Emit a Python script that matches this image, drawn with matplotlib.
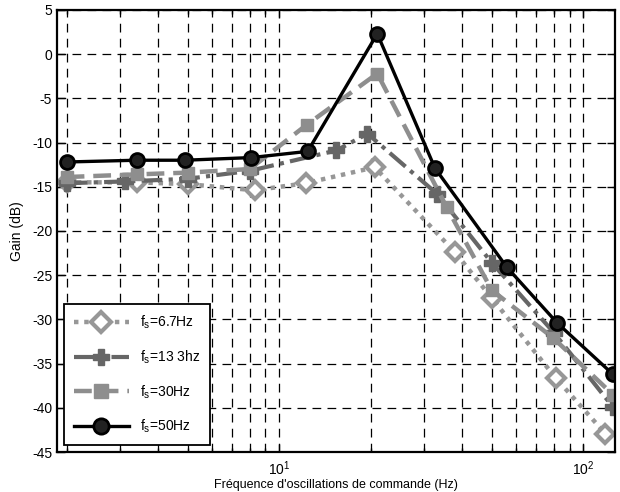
import matplotlib
matplotlib.use("Agg")
import matplotlib.pyplot as plt
from matplotlib.ticker import LogLocator, NullFormatter

plt.rcParams['font.family'] = ['Liberation Sans', 'DejaVu Sans']
plt.rcParams['axes.unicode_minus'] = False
plt.rcParams['mathtext.fontset'] = 'custom'
plt.rcParams['mathtext.rm'] = 'Liberation Sans'

# frequencies (Hz) and gains (dB)
f_67 = [2.0, 3.4, 5.0, 8.3, 12.2, 20.6, 37.8, 50.0, 81.0, 118.0]
g_67 = [-14.5, -14.5, -14.7, -15.4, -14.6, -12.8, -22.4, -27.6, -36.6, -42.9]

f_133 = [2.0, 3.1, 5.0, 8.0, 15.4, 19.5, 33.0, 50.0, 80.0, 125.0]
g_133 = [-14.6, -14.4, -14.1, -13.2, -10.9, -9.0, -15.8, -23.6, -31.5, -39.9]

f_30 = [2.0, 3.4, 5.0, 8.0, 12.3, 21.0, 35.5, 50.0, 79.6, 125.0]
g_30 = [-13.9, -13.6, -13.4, -13.0, -8.0, -2.2, -17.3, -26.7, -32.1, -38.5]

f_50 = [2.0, 3.4, 4.9, 8.1, 12.4, 21.0, 32.5, 56.0, 82.0, 125.0]
g_50 = [-12.2, -12.0, -12.0, -11.7, -11.0, 2.3, -12.9, -24.1, -30.4, -36.2]

labels = [r'f$_\mathregular{s}$=6.7Hz', r'f$_\mathregular{s}$=13 3hz',
          r'f$_\mathregular{s}$=30Hz', r'f$_\mathregular{s}$=50Hz']

fig = plt.figure(figsize=(6.2, 4.92), dpi=100)
ax = fig.add_axes([0.092, 0.081, 0.9, 0.899])

ax.plot(f_67, g_67, linestyle=(0, (1, 1.3)), color='#979797', lw=3.2,
        marker='D', ms=9, mfc='white', mec='#979797', mew=3, label=labels[0])
ax.plot(f_133, g_133, linestyle=(0, (5, 1.5, 1, 1.5)), color='#666666', lw=3,
        marker='P', ms=11, mfc='#666666', mec='#666666', label=labels[1])
ax.plot(f_30, g_30, linestyle=(0, (4, 2)), color='#8e8e8e', lw=3.2,
        marker='s', ms=9, mfc='#8e8e8e', mec='#8e8e8e', label=labels[2])
ax.plot(f_50, g_50, linestyle='-', color='black', lw=2.4,
        marker='o', ms=10, mfc='#222222', mec='black', mew=2, label=labels[3])

ax.set_xscale('log')
ax.set_xlim(1.86, 127)
ax.set_ylim(-45, 5)
ax.set_yticks(range(-45, 6, 5))
ax.xaxis.set_minor_locator(LogLocator(base=10, subs=range(2, 10)))
ax.xaxis.set_minor_formatter(NullFormatter())

ax.grid(True, which='major', color='black', linestyle=(0, (7, 5)), lw=0.9)
ax.grid(True, which='minor', axis='x', color='black', linestyle=(0, (7, 5)), lw=0.9)

ax.tick_params(which='both', direction='in', top=True, right=True, labelsize=10)
ax.tick_params(which='major', length=6, width=1)
ax.tick_params(which='minor', length=3, width=1)
ax.tick_params(axis='x', pad=5)
for s in ax.spines.values():
    s.set_linewidth(1.6)

ax.set_ylabel('Gain (dB)', fontsize=10, labelpad=6)
ax.set_xlabel("Fréquence d'oscillations de commande (Hz)", fontsize=9, labelpad=1)

leg = ax.legend(loc='lower left', handlelength=4.0, fontsize=10, fancybox=False,
                edgecolor='black', framealpha=1, borderaxespad=0.5,
                labelspacing=1.25, borderpad=0.7, markerscale=1.1)
leg.get_frame().set_linewidth(1.3)

fig.savefig('out.png', dpi=100)
